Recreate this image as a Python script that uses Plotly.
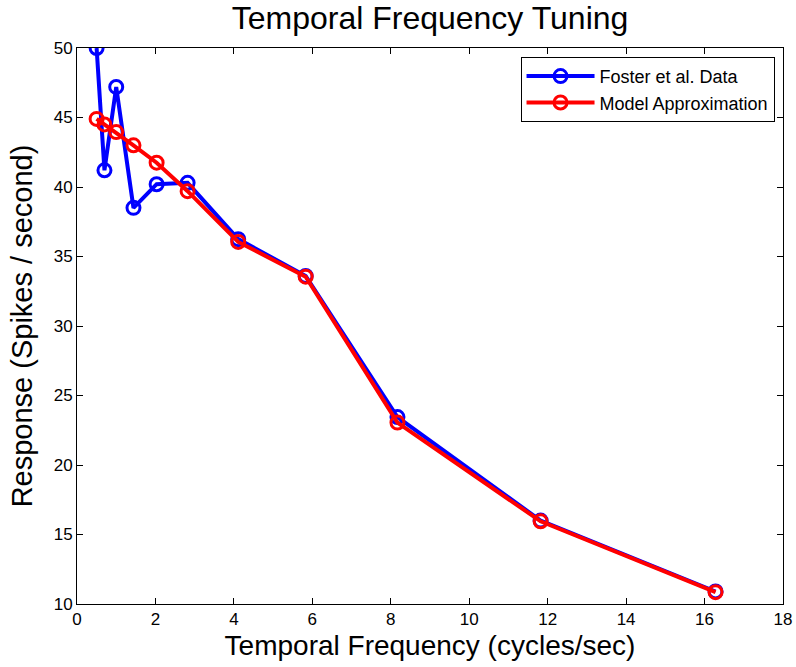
import plotly.graph_objects as go

freq = [0.5, 0.7, 1.0, 1.44, 2.03, 2.82, 4.11, 5.83, 8.17, 11.82, 16.28]
foster = [50.0, 41.2, 47.2, 38.5, 40.2, 40.3, 36.25, 33.6, 23.45, 16.0, 10.9]
model = [44.9, 44.5, 43.95, 43.0, 41.75, 39.7, 36.05, 33.55, 23.05, 15.95, 10.85]

x_ticks = [0, 2, 4, 6, 8, 10, 12, 14, 16, 18]
y_ticks = [10, 15, 20, 25, 30, 35, 40, 45, 50]

font_family = "Liberation Sans, Arial, Helvetica, sans-serif"

fig = go.Figure()
fig.add_trace(go.Scatter(
    x=freq, y=foster, mode="lines+markers", name="Foster et al. Data",
    line=dict(color="#0000ff", width=4),
    marker=dict(symbol="circle-open", size=13, color="#0000ff", line=dict(width=3, color="#0000ff")),
))
fig.add_trace(go.Scatter(
    x=freq, y=model, mode="lines+markers", name="Model Approximation",
    line=dict(color="#ff0000", width=4),
    marker=dict(symbol="circle-open", size=13, color="#ff0000", line=dict(width=3, color="#ff0000")),
))

axis_common = dict(
    showgrid=False, zeroline=False, showline=True, linecolor="black", linewidth=1,
    mirror="ticks", ticks="inside", ticklen=6, tickcolor="black", automargin=False,
    tickfont=dict(size=17, color="black", family=font_family),
)

fig.update_layout(
    width=796, height=667,
    paper_bgcolor="white", plot_bgcolor="white",
    margin=dict(l=77, r=13, t=48, b=63, autoexpand=False),
    font=dict(family=font_family, color="black"),
    title=dict(text="Temporal Frequency Tuning", x=0.5, xref="paper", xanchor="center",
               y=0.973, yanchor="middle", font=dict(size=32, color="black")),
    xaxis=dict(range=[0, 18], tickvals=x_ticks, title=dict(text="Temporal Frequency (cycles/sec)",
               font=dict(size=28), standoff=6), **axis_common),
    yaxis=dict(range=[10, 50], tickvals=y_ticks, title=dict(text="Response (Spikes / second)",
               font=dict(size=29), standoff=12), **axis_common),
    legend=dict(x=0.988, y=0.984, xanchor="right", yanchor="top",
                bgcolor="white", bordercolor="black", borderwidth=1,
                font=dict(size=18, color="black"), tracegroupgap=0,
                itemwidth=68),
    showlegend=True,
)

fig.write_html("out.html")
